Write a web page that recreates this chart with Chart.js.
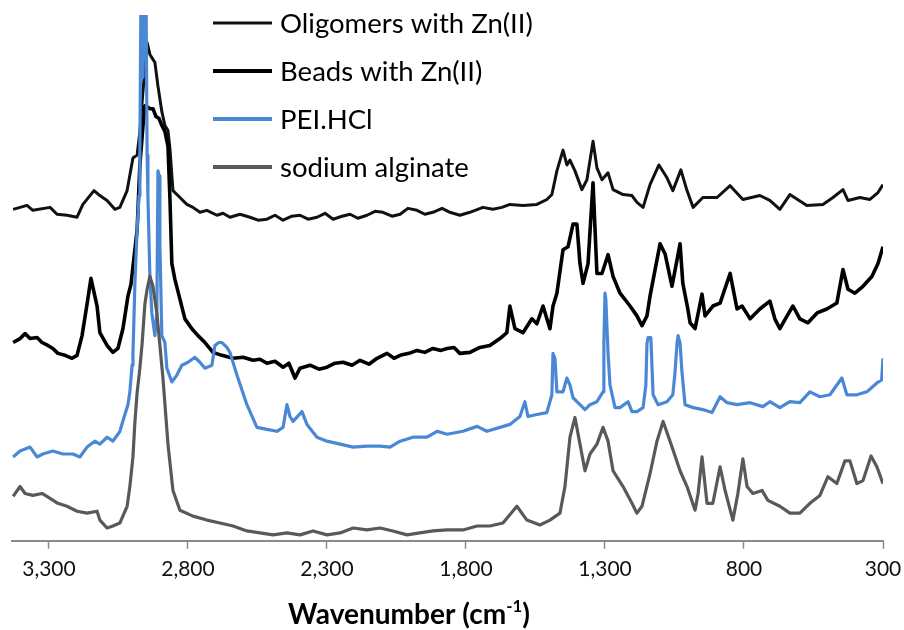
<!DOCTYPE html>
<html>
<head>
<meta charset="utf-8">
<script src="https://cdn.jsdelivr.net/npm/chart.js@4.4.1/dist/chart.umd.min.js"></script>
<style>
  html, body { margin: 0; padding: 0; background: #fff; }
  #wrap { width: 904px; height: 630px; position: relative; }
</style>
</head>
<body>
<div id="wrap"><canvas id="spectra"></canvas></div>
<script>
// wavenumber (cm-1) and relative intensity
const oligomerWn = [3429,3379,3358,3296,3271,3235,3199,3178,3138,3117,3091,3063,3045,3019,2998,2983,2973,2962,2947,2937,2926,2919,2908,2894,2883,2872,2865,2854,2829,2804,2782,2757,2732,2696,2674,2649,2613,2577,2548,2516,2487,2458,2426,2397,2368,2336,2307,2278,2246,2217,2189,2156,2127,2099,2066,2037,2009,1976,1948,1919,1886,1858,1822,1786,1739,1703,1671,1642,1595,1545,1509,1491,1473,1451,1437,1426,1408,1383,1365,1343,1329,1311,1289,1271,1235,1203,1185,1163,1138,1106,1077,1056,1027,1005,983,948,897,850,804,743,707,671,635,574,516,480,444,426,383,347,318,300];
const oligomerY = [336,340,335,338,331,330,328,341,355,350,345,336,338,355,388,391,415,455,505,493,488,485,461,435,421,416,398,355,348,341,338,333,335,330,332,328,331,328,325,326,330,325,329,330,326,328,332,326,329,331,327,330,334,333,329,331,337,335,331,333,337,333,330,333,338,336,338,341,340,341,346,351,375,396,381,386,375,356,366,405,378,366,373,356,351,350,343,338,361,381,368,355,376,355,338,348,348,360,346,350,345,336,351,340,341,348,356,345,348,346,353,361];

const beadsWn = [3429,3404,3386,3368,3343,3325,3304,3286,3268,3242,3217,3199,3181,3163,3149,3127,3117,3091,3070,3052,3034,3016,3005,2983,2973,2962,2955,2947,2937,2926,2915,2904,2894,2883,2872,2865,2858,2847,2829,2811,2786,2764,2739,2710,2678,2638,2602,2566,2541,2516,2487,2458,2437,2415,2397,2361,2329,2300,2271,2242,2210,2181,2149,2120,2084,2059,2037,2005,1976,1948,1919,1890,1868,1843,1822,1786,1750,1714,1678,1653,1642,1624,1595,1563,1545,1523,1498,1487,1473,1451,1433,1415,1401,1390,1379,1361,1343,1329,1311,1289,1271,1246,1210,1185,1167,1149,1138,1102,1084,1059,1030,1020,1002,994,976,951,940,912,886,850,825,807,778,743,707,689,671,645,624,599,570,537,502,466,444,426,401,372,340,318,300];
const beadsY = [201,205,210,205,206,201,198,195,190,188,185,188,208,240,266,238,211,198,191,195,215,248,260,315,381,420,441,440,438,438,430,428,421,415,400,348,281,265,245,225,215,208,201,191,188,185,186,183,184,180,182,176,180,165,175,178,174,176,180,181,178,183,179,185,190,185,188,190,193,191,195,193,195,196,190,191,196,198,205,211,238,215,211,225,220,238,215,238,251,295,298,321,321,281,261,281,363,271,271,290,268,251,238,228,218,228,248,301,291,258,301,261,235,221,215,250,228,238,241,271,235,238,225,235,243,225,215,228,238,225,221,231,235,241,275,255,251,258,268,281,298];

const peiWn = [3429,3404,3368,3343,3322,3286,3250,3214,3189,3163,3135,3117,3091,3070,3052,3045,3027,3016,3009,3001,2998,2991,2983,2976,2973,2969,2962,2958,2951,2947,2944,2937,2930,2919,2912,2908,2904,2901,2894,2883,2876,2858,2840,2822,2800,2775,2757,2739,2714,2703,2689,2678,2660,2649,2624,2588,2552,2516,2480,2458,2444,2433,2422,2390,2372,2336,2300,2253,2206,2156,2109,2073,2037,1991,1940,1904,1868,1811,1760,1725,1678,1642,1606,1588,1577,1545,1509,1491,1487,1480,1473,1451,1437,1426,1415,1390,1372,1354,1329,1307,1304,1300,1297,1289,1282,1264,1246,1217,1203,1185,1163,1153,1149,1145,1135,1127,1109,1077,1056,1048,1041,1037,1030,1023,1012,983,948,915,886,861,825,778,732,707,671,635,599,563,527,491,448,430,394,358,322,305,300];
const peiY = [85,91,95,85,88,91,88,88,85,95,101,98,105,101,108,111,128,138,151,178,188,260,315,350,398,560,470,560,560,391,348,268,231,208,231,375,370,300,208,201,175,161,168,178,181,186,181,175,178,198,201,201,196,191,168,138,115,113,111,115,138,126,121,131,118,105,101,98,95,96,96,95,101,105,105,111,108,111,116,111,115,118,126,141,126,128,130,148,190,185,151,151,165,158,145,138,133,138,141,151,200,251,245,190,158,135,135,141,131,131,135,158,200,206,206,148,138,141,148,171,200,208,200,171,138,135,133,130,146,140,138,140,136,141,135,141,140,151,146,148,165,148,148,151,160,163,185];

const alginateWn = [3429,3404,3386,3358,3325,3296,3268,3235,3199,3163,3127,3117,3091,3070,3045,3019,3009,2998,2991,2983,2973,2965,2955,2947,2937,2926,2912,2890,2872,2854,2829,2782,2732,2685,2638,2588,2541,2494,2444,2397,2350,2300,2253,2206,2156,2109,2063,2012,1966,1919,1868,1811,1760,1714,1667,1617,1581,1534,1498,1462,1444,1426,1408,1390,1372,1354,1329,1307,1289,1271,1235,1203,1185,1167,1138,1113,1091,1066,1030,1005,976,965,951,933,912,886,868,840,822,804,789,768,735,714,671,635,599,563,527,498,466,437,419,394,372,343,322,300];
const alginateY = [45,55,48,46,48,43,38,35,30,28,30,21,13,15,18,35,55,85,120,150,175,200,240,255,268,258,231,165,98,51,31,25,21,18,15,10,8,6,8,6,10,6,8,13,11,13,10,6,8,10,11,11,15,15,18,35,21,16,21,28,55,105,125,98,71,88,98,115,101,71,55,38,28,35,68,101,121,101,71,55,31,48,85,38,38,75,51,21,48,83,55,48,51,41,35,28,28,38,46,65,58,81,81,58,61,86,75,58];

const seriesLabels = ['Oligomers with Zn(II)', 'Beads with Zn(II)', 'PEI.HCl', 'sodium alginate'];
const tickValues = [3300, 2800, 2300, 1800, 1300, 800, 300];

const FONT = 'Lato, "Open Sans", sans-serif';

function toPoints(xs, ys) {
  return xs.map((x, i) => ({ x: x, y: ys[i] }));
}

const series = [
  { data: toPoints(oligomerWn, oligomerY), color: '#111111', width: 3, order: 4 },
  { data: toPoints(beadsWn, beadsY), color: '#000000', width: 3.6, order: 3 },
  { data: toPoints(peiWn, peiY), color: '#4a88d6', width: 3.2, order: 2 },
  { data: toPoints(alginateWn, alginateY), color: '#595959', width: 3.2, order: 1 },
];

// legend drawn by hand, the way the source figure stacks it
const legendPlugin = {
  id: 'handLegend',
  afterDraw(chart) {
    const ctx = chart.ctx;
    ctx.save();
    let size = 22;
    ctx.font = size + 'px ' + FONT;
    size = size * 253 / ctx.measureText(seriesLabels[0]).width;
    ctx.font = size + 'px ' + FONT;
    ctx.textBaseline = 'middle';
    ctx.fillStyle = '#000';
    seriesLabels.forEach((label, i) => {
      const y = 23 + i * 48;
      ctx.strokeStyle = series[i].color;
      ctx.lineWidth = i === 0 ? 3 : 4;
      ctx.beginPath();
      ctx.moveTo(213, y);
      ctx.lineTo(272, y);
      ctx.stroke();
      ctx.fillText(label, 280, y + 1);
    });
    ctx.restore();
  }
};

// x axis title with a real superscript
const axisTitlePlugin = {
  id: 'axisTitle',
  afterDraw(chart) {
    const ctx = chart.ctx;
    ctx.save();
    let size = 22;
    const main = 'Wavenumber (cm';
    const sup = '-1';
    const tail = ')';
    const measure = s => {
      ctx.font = 'bold ' + s + 'px ' + FONT;
      const a = ctx.measureText(main).width + ctx.measureText(tail).width;
      ctx.font = 'bold ' + (s * 0.6) + 'px ' + FONT;
      return a + ctx.measureText(sup).width;
    };
    size = size * 242 / measure(size);
    let x = 288;
    const base = 624;
    ctx.fillStyle = '#000';
    ctx.textBaseline = 'alphabetic';
    ctx.font = 'bold ' + size + 'px ' + FONT;
    ctx.fillText(main, x, base);
    x += ctx.measureText(main).width;
    ctx.font = 'bold ' + (size * 0.6) + 'px ' + FONT;
    ctx.fillText(sup, x, base - size * 0.42);
    x += ctx.measureText(sup).width;
    ctx.font = 'bold ' + size + 'px ' + FONT;
    ctx.fillText(tail, x, base);
    ctx.restore();
  }
};

const chart = new Chart(document.getElementById('spectra'), {
  type: 'line',
  data: {
    datasets: series.map((s, i) => ({
      label: seriesLabels[i],
      data: s.data,
      borderColor: s.color,
      backgroundColor: s.color,
      borderWidth: s.width,
      pointRadius: 0,
      tension: 0,
      fill: false,
      order: s.order,
      borderJoinStyle: 'round',
    }))
  },
  options: {
    responsive: true,
    maintainAspectRatio: false,
    animation: false,
    devicePixelRatio: 1,
    layout: { padding: { left: 12, right: 21, top: 15, bottom: 40 } },
    plugins: {
      legend: { display: false },
      tooltip: { enabled: false },
    },
    scales: {
      x: {
        type: 'linear',
        reverse: true,
        min: 300,
        max: 3433,
        afterBuildTicks: scale => {
          scale.ticks = tickValues.map(v => ({ value: v }));
        },
        // the end labels may hang into the page margin, as in the figure
        afterFit: scale => {
          scale.paddingLeft = 0;
          scale.paddingRight = 0;
        },
        ticks: {
          autoSkip: false,
          maxRotation: 0,
          padding: 8,
          color: '#111',
          font: { family: FONT, size: 21 },
          callback: v => v.toLocaleString('en-US'),
        },
        grid: {
          display: true,
          drawOnChartArea: false,
          drawTicks: true,
          tickLength: 8,
          tickWidth: 1.5,
          tickColor: '#8a8a8a',
        },
        border: { display: true, color: '#8a8a8a', width: 2 },
      },
      y: {
        display: false,
        min: 0,
        max: 533,
      }
    }
  },
  plugins: [legendPlugin, axisTitlePlugin]
});
</script>
</body>
</html>
